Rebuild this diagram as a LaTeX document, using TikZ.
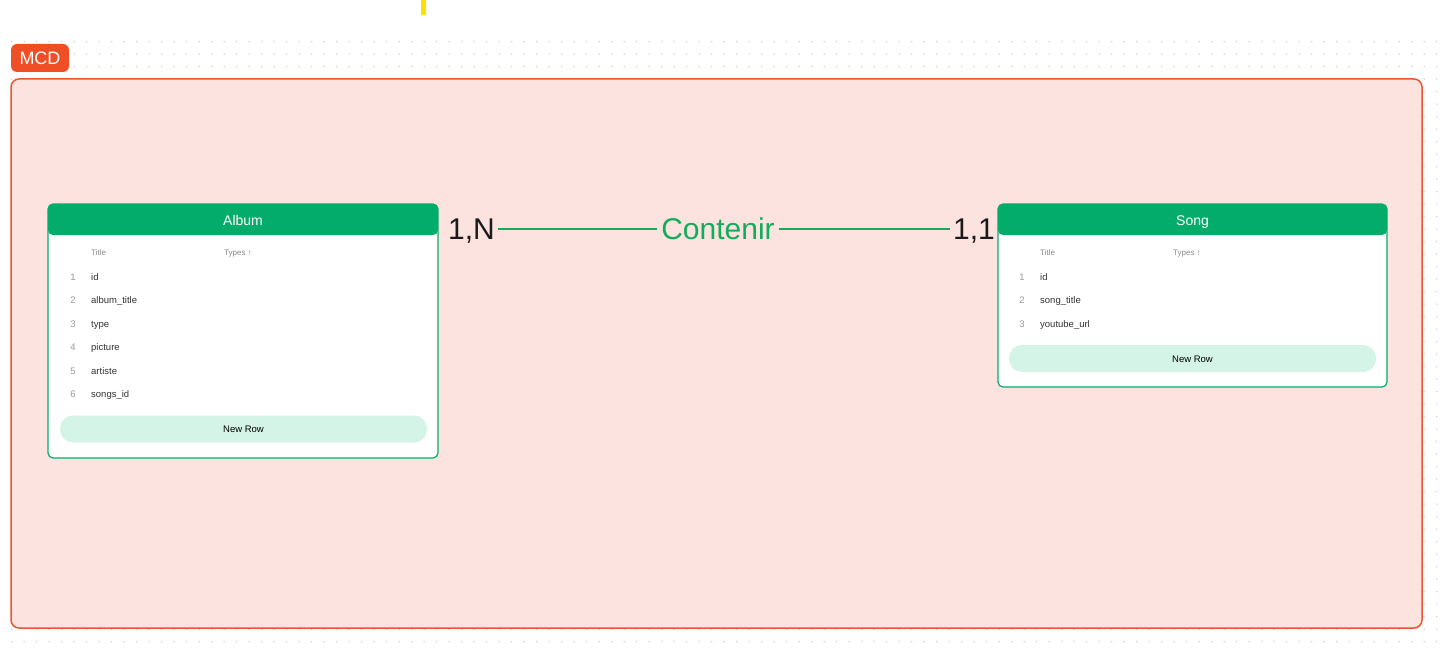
\documentclass[tikz,border=0pt]{standalone}
\usepackage{fontspec}
\setmainfont{Liberation Sans}
\definecolor{hdrgreen}{HTML}{04AC6B}
\definecolor{relgreen}{HTML}{10AE5A}
\definecolor{rowfill}{HTML}{D3F4E6}
\definecolor{framefill}{HTML}{FDE3DF}
\definecolor{framedraw}{HTML}{EC5531}
\definecolor{mcdfill}{HTML}{F04E25}
\definecolor{dotc}{HTML}{C9C9C9}
\definecolor{yellowmark}{HTML}{FFE100}
\definecolor{numgray}{HTML}{9A9A9A}
\definecolor{rowtext}{HTML}{333333}
\definecolor{headgray}{HTML}{8A8A8A}
\definecolor{cardtext}{HTML}{1A1A1A}
\tikzset{
  frame/.style={draw=framedraw, line width=1.5pt, fill=framefill, rounded corners=8pt, inner sep=0pt},
  mcdlabel/.style={fill=mcdfill, rounded corners=6pt, minimum width=58pt, minimum height=28pt, inner sep=0pt, text=white, font=\fontsize{18}{20}\selectfont, text height=13pt, text depth=0pt},
  tablebox/.style={draw=hdrgreen, line width=1.2pt, fill=white, rounded corners=5pt, inner sep=0pt,
    path picture={\fill[hdrgreen] (path picture bounding box.north west) rectangle ([yshift=-31pt]path picture bounding box.north east);}},
  tabletitle/.style={text=white, font=\fontsize{14}{16}\selectfont, text height=10pt, text depth=0pt, inner sep=0pt},
  colhead/.style={anchor=west, text=headgray, font=\fontsize{8}{9}\selectfont, inner sep=0pt, text height=6pt, text depth=0pt},
  rownum/.style={text=numgray, font=\fontsize{9.5}{11}\selectfont, inner sep=0pt, text height=7pt, text depth=0pt},
  rowname/.style={anchor=west, text=rowtext, font=\fontsize{9.5}{11}\selectfont, inner sep=0pt, text height=7pt, text depth=0pt},
  newrow/.style={fill=rowfill, rounded corners=13pt, minimum height=27pt, inner sep=0pt, text=black, font=\fontsize{9.5}{11}\selectfont, text height=7pt, text depth=0pt},
  card/.style={text=cardtext, font=\fontsize{30}{32}\selectfont, text height=21.5pt, text depth=0pt, inner sep=3pt},
  rel/.style={text=relgreen, font=\fontsize{30}{32}\selectfont, text height=21.5pt, text depth=0pt, inner sep=4pt},
  conn/.style={draw=relgreen, line width=2.5pt}
}
\begin{document}
\begin{tikzpicture}[x=1pt,y=-1pt]
\useasboundingbox (0,0) rectangle (1447,650);
\fill[white] (0,0) rectangle (1447,650);
% dot grid
\foreach \i in {0,...,114}{
  \foreach \j in {0,...,48}{
    \fill[dotc] (11.7+12.5*\i, 41.7+12.5*\j) circle (0.75);
  }
}
% yellow mark
\fill[yellowmark] (421,0) rectangle (426,15);
% MCD label and frame
\node[mcdlabel] (mcd) at (40,58) {MCD};
\node[frame, minimum width=1411pt, minimum height=549pt] (mcdframe) at (716.5,353.5) {};

% Album table
\node[tablebox, minimum width=390pt, minimum height=254pt] (album) at (243,331) {};
\node[tabletitle] (albumtitle) at (243,220) {Album};
\node[colhead] (albumh1) at (91,252) {Title};
\node[colhead] (albumh2) at (224,252) {Types ↑};
\foreach \k/\nm in {1/id,2/album\_title,3/type,4/picture,5/artiste,6/songs\_id}{
  \node[rownum] (albumn\k) at (73,{277+23.4*(\k-1)}) {\k};
  \node[rowname] (albumr\k) at (91,{277+23.4*(\k-1)}) {\nm};
}
\node[newrow, minimum width=367pt] (albumnew) at (243.5,429) {New Row};

% Song table
\node[tablebox, minimum width=389pt, minimum height=183pt] (song) at (1192.5,295.5) {};
\node[tabletitle] (songtitle) at (1192.5,220) {Song};
\node[colhead] (songh1) at (1040,252) {Title};
\node[colhead] (songh2) at (1173,252) {Types ↑};
\foreach \k/\nm in {1/id,2/song\_title,3/youtube\_url}{
  \node[rownum] (songn\k) at (1022,{277+23.4*(\k-1)}) {\k};
  \node[rowname] (songr\k) at (1040,{277+23.4*(\k-1)}) {\nm};
}
\node[newrow, minimum width=367pt] (songnew) at (1192.5,358.5) {New Row};

% relation
\node[card, anchor=west] (c1) at (445,229) {1,N};
\node[rel] (relation) at (718,229) {Contenir};
\node[card, anchor=east] (c2) at (998,229) {1,1};
\draw[conn] (c1) -- (relation);
\draw[conn] (relation) -- (c2);
\end{tikzpicture}
\end{document}
